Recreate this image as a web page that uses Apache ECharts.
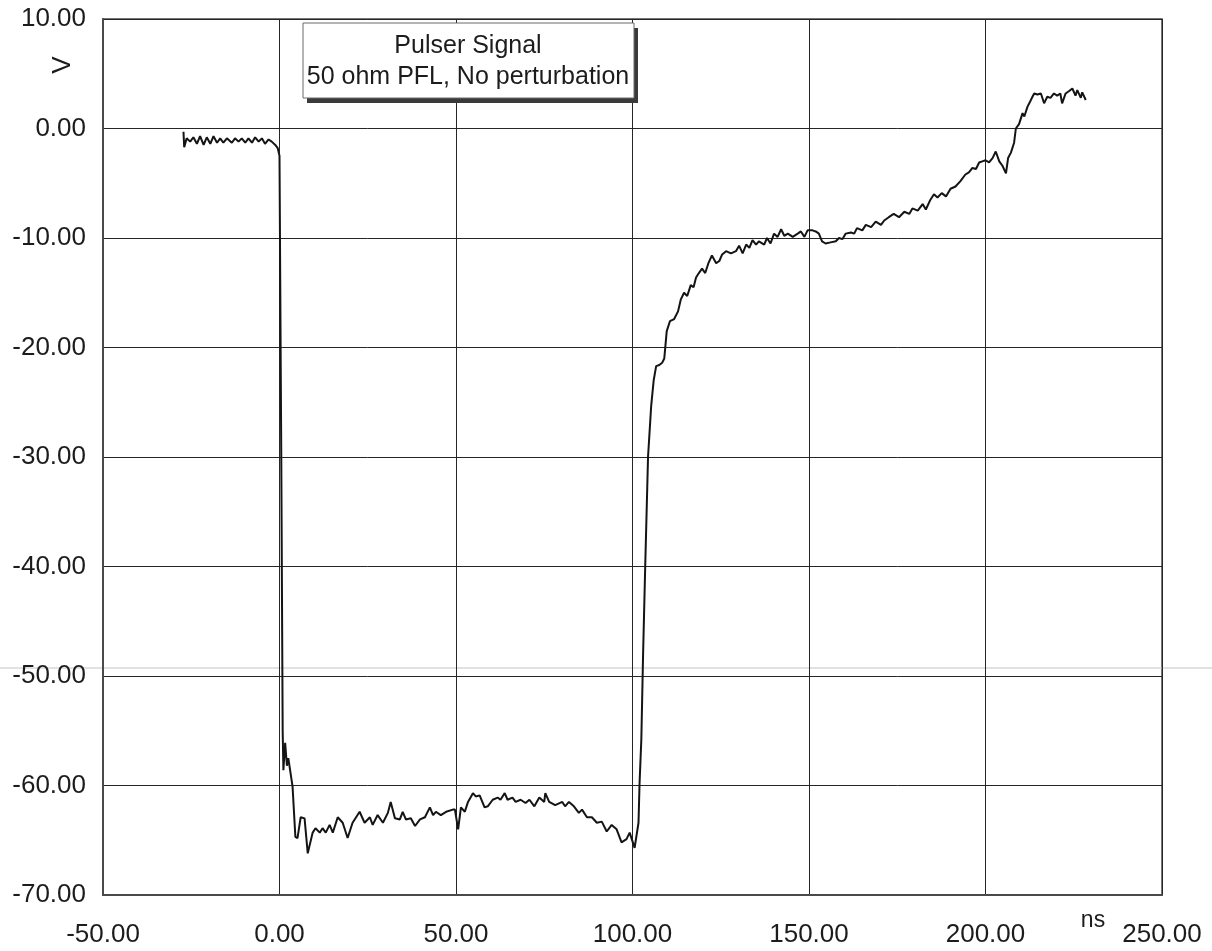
<!DOCTYPE html>
<html>
<head>
<meta charset="utf-8">
<title>Pulser Signal</title>
<script src="https://cdn.jsdelivr.net/npm/echarts@6/dist/echarts.min.js"></script>
<style>
  html, body { margin: 0; padding: 0; background: #ffffff; }
  #chart { width: 1212px; height: 951px; }
</style>
</head>
<body>
<div id="chart"></div>
<script>
// Oscilloscope trace: time (ns) and voltage (V) samples
const timeNs = [
  -27.2, -27.0, -26.3, -25.3, -24.4, -23.4, -22.5, -21.5, -20.6, -19.6,
  -18.7, -17.7, -16.8, -15.9, -14.9, -13.5, -12.6, -11.6, -10.7, -9.7,
  -8.8, -7.8, -6.9, -5.9, -5.0, -4.1, -3.1, -2.2, -1.2, -0.5,
  0.0, 0.5, 0.9, 1.1, 1.6, 2.1, 2.5, 3.1, 3.7, 4.5,
  5.1, 6.0, 7.1, 8.0, 9.4, 10.2, 11.4, 12.2, 13.1, 14.2,
  15.1, 16.5, 17.9, 19.3, 20.7, 22.7, 24.1, 25.6, 26.4, 27.8,
  29.3, 30.7, 31.5, 32.7, 34.1, 34.9, 35.8, 37.2, 38.4, 39.8,
  41.2, 42.6, 43.5, 44.3, 45.7, 47.2, 49.1, 49.7, 50.6, 51.4,
  52.5, 53.4, 54.8, 55.6, 56.7, 58.1, 59.0, 60.4, 61.8, 62.6,
  63.8, 64.6, 66.0, 66.9, 68.3, 69.7, 70.8, 72.2, 73.6, 75.0,
  75.3, 76.4, 78.1, 80.1, 80.9, 82.0, 83.4, 84.8, 85.7, 87.1,
  88.5, 89.9, 91.3, 92.7, 94.1, 95.5, 96.9, 98.3, 99.2, 100.6,
  101.7, 102.0, 102.5, 103.0, 103.6, 104.4, 105.3, 106.0, 106.7, 107.6,
  108.4, 109.0, 109.7, 110.6, 111.8, 112.9, 113.7, 114.6, 115.5, 116.5,
  117.3, 118.0, 118.8, 119.7, 120.6, 121.5, 122.5, 123.7, 124.6, 125.4,
  126.5, 127.9, 129.3, 130.2, 131.2, 132.2, 133.1, 134.0, 135.0, 135.8,
  137.3, 138.1, 139.1, 140.1, 141.1, 142.1, 143.0, 144.0, 145.4, 146.8,
  147.7, 148.7, 149.6, 151.0, 151.9, 152.8, 153.7, 154.7, 156.1, 157.6,
  158.5, 159.5, 160.4, 161.9, 162.8, 163.6, 165.1, 166.1, 167.6, 168.9,
  170.4, 171.3, 172.6, 174.0, 175.5, 177.0, 178.4, 179.3, 180.8, 182.2,
  183.1, 184.4, 185.4, 186.4, 187.6, 188.8, 190.1, 191.5, 192.9, 194.3,
  195.3, 196.3, 197.3, 198.2, 199.1, 200.0, 201.0, 202.0, 202.9, 203.9,
  204.8, 205.8, 206.4, 207.2, 208.1, 208.6, 209.5, 210.5, 211.0, 211.9,
  212.4, 213.3, 213.8, 214.7, 215.7, 216.6, 217.5, 218.4, 219.4, 220.3,
  221.2, 221.7, 222.7, 223.6, 224.6, 225.5, 226.0, 227.0, 227.4, 228.4
];
const voltage = [
  -0.3, -1.7, -0.9, -1.2, -0.8, -1.4, -0.7, -1.5, -0.8, -1.4,
  -0.7, -1.3, -0.9, -1.3, -0.9, -1.3, -0.9, -1.2, -0.9, -1.3,
  -0.9, -1.3, -0.8, -1.2, -0.9, -1.4, -1.0, -1.2, -1.5, -1.8,
  -2.5, -30.0, -55.0, -58.6, -56.1, -58.2, -57.5, -58.8, -60.1, -64.7,
  -64.8, -62.9, -63.0, -66.2, -64.3, -63.9, -64.3, -63.9, -64.3, -63.6,
  -64.3, -62.9, -63.4, -64.8, -63.4, -62.4, -63.4, -62.9, -63.6, -62.7,
  -63.4, -62.5, -61.5, -63.0, -63.1, -62.4, -63.1, -63.0, -63.7, -63.1,
  -62.9, -62.0, -62.7, -62.4, -62.7, -62.4, -62.2, -62.2, -64.0, -62.0,
  -62.4, -61.5, -60.7, -61.0, -60.9, -62.0, -61.9, -61.3, -61.1, -61.3,
  -60.7, -61.3, -61.1, -61.5, -61.3, -61.6, -61.3, -61.9, -61.1, -61.5,
  -60.7, -61.5, -61.8, -61.5, -61.9, -61.5, -61.9, -62.5, -62.2, -62.9,
  -62.9, -63.4, -63.3, -64.2, -63.6, -64.0, -65.2, -64.9, -64.3, -65.7,
  -63.4, -59.8, -55.8, -48.0, -40.0, -30.0, -25.3, -23.0, -21.7, -21.6,
  -21.4, -21.0, -18.5, -17.6, -17.4, -16.7, -15.6, -15.0, -15.3, -14.3,
  -14.5, -13.6, -13.2, -12.8, -13.2, -12.3, -11.6, -12.3, -12.1, -11.5,
  -11.2, -11.4, -11.2, -10.7, -11.4, -10.6, -10.9, -10.2, -10.6, -10.3,
  -10.6, -10.0, -10.5, -9.6, -9.9, -9.2, -9.8, -9.6, -9.9, -9.6,
  -9.4, -9.9, -9.3, -9.3, -9.4, -9.6, -10.3, -10.5, -10.4, -10.3,
  -10.0, -10.1, -9.6, -9.5, -9.6, -9.1, -9.3, -8.8, -9.0, -8.5,
  -8.8, -8.4, -8.1, -7.8, -8.1, -7.6, -7.8, -7.3, -7.5, -6.9,
  -7.4, -6.5, -6.0, -6.3, -5.9, -6.2, -5.5, -5.3, -4.8, -4.2,
  -4.0, -3.6, -3.7, -3.1, -3.0, -2.9, -3.1, -2.7, -2.1, -3.0,
  -3.4, -4.1, -2.7, -2.2, -1.3, 0.0, 0.4, 1.4, 1.1, 2.0,
  2.3, 2.9, 3.2, 3.1, 3.2, 2.3, 2.9, 2.8, 3.2, 3.0,
  3.2, 2.3, 3.2, 3.4, 3.65, 3.0, 3.5, 2.8, 3.3, 2.6
];

// Axis ranges and tick spacing
const xRange = [-50, 250];
const xStep = 50;
const yRange = [-70, 10];
const yStep = 10;

const chartTitle = ['Pulser Signal', '50 ohm PFL, No perturbation'];
const xUnit = 'ns';
const yUnit = 'V';

const FONT = '"Liberation Sans", Arial, Helvetica, sans-serif';
const INK = '#1c1c1c';

const tracePoints = timeNs.map((t, i) => [t, voltage[i]]);

const chart = echarts.init(document.getElementById('chart'), null, { renderer: 'canvas' });

chart.setOption({
  animation: false,
  backgroundColor: '#ffffff',
  grid: {
    left: 103, right: 50, top: 19, bottom: 56,
    show: true,
    borderColor: '#4a4a4a',
    borderWidth: 1.5,
    backgroundColor: 'transparent'
  },
  xAxis: {
    type: 'value',
    min: xRange[0], max: xRange[1], interval: xStep,
    axisLine: { show: true, onZero: false, lineStyle: { color: '#4a4a4a', width: 2 } },
    axisTick: { show: false },
    splitLine: { show: true, lineStyle: { color: '#262626', width: 1 } },
    axisLabel: {
      formatter: v => v.toFixed(2),
      color: INK, fontFamily: FONT, fontSize: 26, margin: 27
    }
  },
  yAxis: {
    type: 'value',
    min: yRange[0], max: yRange[1], interval: yStep,
    axisLine: { show: true, onZero: false, lineStyle: { color: '#4a4a4a', width: 2 } },
    axisTick: { show: false },
    splitLine: { show: true, lineStyle: { color: '#262626', width: 1 } },
    axisLabel: {
      formatter: v => v.toFixed(2),
      color: INK, fontFamily: FONT, fontSize: 26, margin: 17
    }
  },
  series: [{
    type: 'line',
    data: tracePoints,
    showSymbol: false,
    smooth: false,
    lineStyle: { color: '#141414', width: 2 },
    z: 5
  }],
  graphic: [
    // faint rule running across the page
    {
      type: 'line', silent: true, z: 0,
      shape: { x1: 0, y1: 668, x2: 1212, y2: 668 },
      style: { stroke: '#c4c4c4', lineWidth: 1 }
    },
    // title box with drop shadow
    {
      type: 'rect', z: 20, silent: true,
      shape: { x: 307, y: 28, width: 331, height: 75 },
      style: { fill: '#3a3a3a' }
    },
    {
      type: 'rect', z: 21, silent: true,
      shape: { x: 303, y: 23, width: 331, height: 75 },
      style: { fill: '#ffffff', stroke: '#6a6a6a', lineWidth: 1 }
    },
    {
      type: 'text', z: 22, silent: true,
      x: 468, y: 46,
      style: {
        text: chartTitle[0], fill: INK, font: '25px ' + FONT,
        textAlign: 'center', textVerticalAlign: 'middle'
      }
    },
    {
      type: 'text', z: 22, silent: true,
      x: 468, y: 77,
      style: {
        text: chartTitle[1], fill: INK, font: '25px ' + FONT,
        textAlign: 'center', textVerticalAlign: 'middle'
      }
    },
    // axis units
    {
      type: 'text', z: 22, silent: true,
      x: 63, y: 65, rotation: Math.PI / 2,
      style: {
        text: yUnit, fill: INK, font: '26px ' + FONT,
        textAlign: 'center', textVerticalAlign: 'middle'
      }
    },
    {
      type: 'text', z: 22, silent: true,
      x: 1093, y: 921,
      style: {
        text: xUnit, fill: INK, font: '23px ' + FONT,
        textAlign: 'center', textVerticalAlign: 'middle'
      }
    }
  ]
});
</script>
</body>
</html>
